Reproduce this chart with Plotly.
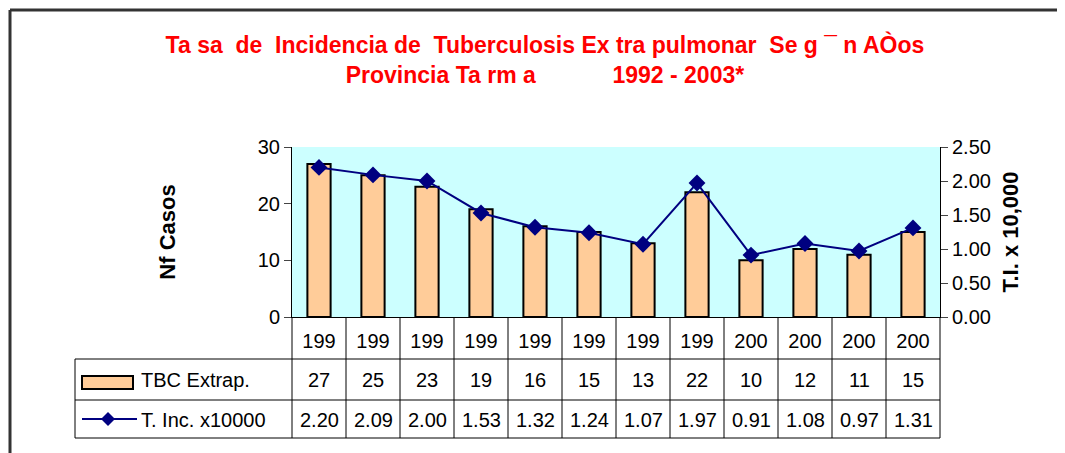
import plotly.graph_objects as go

# data
years = ["1992", "1993", "1994", "1995", "1996", "1997",
         "1998", "1999", "2000", "2001", "2002", "2003"]
year_labels = ["199", "199", "199", "199", "199", "199",
               "199", "199", "200", "200", "200", "200"]
casos = [27, 25, 23, 19, 16, 15, 13, 22, 10, 12, 11, 15]
tasa = [2.20, 2.09, 2.00, 1.53, 1.32, 1.24, 1.07, 1.97, 0.91, 1.08, 0.97, 1.31]

# page has an 8px body margin, so the figure is a bit smaller than the window
OFF = 8
W, H = 1065 - OFF, 453 - OFF
L, R, T, B = 292 - OFF, 125, 147 - OFF, 136
pw, ph = W - L - R, H - T - B


def px(x):  # page pixel x -> paper
    return (x - OFF - L) / pw


def py(y):  # page pixel y -> paper
    return (H - B - (y - OFF)) / ph


nb = "\u00a0"
title = ("Ta" + nb + "sa" + nb * 2 + "de" + nb * 2 + "Incidencia de" + nb * 2 + "Tuberculosis Ex" + nb + "tra pulmonar"
         + nb * 2 + "Se" + nb + "g" + nb + "¯" + nb + "n AÒos<br>Provincia Ta" + nb + "rm" + nb + "a"
         + nb * 12 + "1992 - 2003*")

fig = go.Figure()
fig.add_trace(go.Bar(x=years, y=casos, name="TBC Extrap.",
                     marker=dict(color="#FFCC99", line=dict(color="black", width=2)),
                     showlegend=False))
fig.add_trace(go.Scatter(x=years, y=tasa, name="T. Inc. x10000", yaxis="y2",
                         mode="lines+markers",
                         line=dict(color="#000080", width=2),
                         marker=dict(symbol="diamond", size=13, color="#000080"),
                         showlegend=False))

font = "Liberation Sans, Arial, sans-serif"
fs = 20
shapes = []
annotations = []

# outer frame (left and top edges only are visible)
shapes.append(dict(type="line", xref="paper", yref="paper", x0=px(10), x1=px(1080), y0=py(10), y1=py(10),
                   line=dict(color="#333333", width=3)))
shapes.append(dict(type="line", xref="paper", yref="paper", x0=px(10), x1=px(10), y0=py(10), y1=py(470),
                   line=dict(color="#333333", width=3)))

# data table grid
n = len(years)
for k in range(n + 1):
    shapes.append(dict(type="line", xref="paper", yref="paper", x0=k / n, x1=k / n, y0=py(317), y1=py(438),
                       line=dict(color="black", width=1)))
for yy in (359, 400, 438):
    shapes.append(dict(type="line", xref="paper", yref="paper", x0=px(75), x1=1, y0=py(yy), y1=py(yy),
                       line=dict(color="black", width=1)))
shapes.append(dict(type="line", xref="paper", yref="paper", x0=px(75), x1=px(75), y0=py(359), y1=py(438),
                   line=dict(color="black", width=1)))

# legend keys inside the table
shapes.append(dict(type="rect", xref="paper", yref="paper", x0=px(82), x1=px(133), y0=py(376), y1=py(389),
                   fillcolor="#FFCC99", line=dict(color="black", width=2)))
shapes.append(dict(type="line", xref="paper", yref="paper", x0=px(82), x1=px(137), y0=py(419), y1=py(419),
                   line=dict(color="#000080", width=2)))
shapes.append(dict(type="path", xref="paper", yref="paper",
                   path="M {} {} L {} {} L {} {} L {} {} Z".format(px(108), py(412), px(115), py(419),
                                                                px(108), py(426), px(101), py(419)),
                   fillcolor="#000080", line=dict(color="#000080", width=0)))
annotations.append(dict(text="TBC Extrap.", xref="paper", yref="paper", x=px(139), y=py(380),
                        xanchor="left", yanchor="middle", showarrow=False,
                        font=dict(family=font, size=fs, color="black")))
annotations.append(dict(text="T. Inc. x10000", xref="paper", yref="paper", x=px(139), y=py(420),
                        xanchor="left", yanchor="middle", showarrow=False,
                        font=dict(family=font, size=fs, color="black")))

# table values (category index positions on the x axis)
for i, (c, t) in enumerate(zip(casos, tasa)):
    annotations.append(dict(text=str(c), xref="x", yref="paper", x=i, y=py(380),
                            showarrow=False, yanchor="middle",
                            font=dict(family=font, size=fs, color="black")))
    annotations.append(dict(text="{:.2f}".format(t), xref="x", yref="paper", x=i, y=py(420),
                            showarrow=False, yanchor="middle",
                            font=dict(family=font, size=fs, color="black")))

fig.update_layout(
    width=W, height=H, autosize=False,
    margin=dict(l=L, r=R, t=T, b=B),
    paper_bgcolor="white", plot_bgcolor="#CCFFFF",
    bargap=0.57,
    title=dict(text=title, x=0.508, xanchor="center", y=0.898, yanchor="middle",
               font=dict(family="Liberation Sans Narrow, Arial Narrow, Liberation Sans, Arial", size=23,
                         color="#FF0000", weight="bold")),
    xaxis=dict(type="category", range=[-0.5, n - 0.5], tickvals=years, ticktext=year_labels, ticks="",
               showline=True, linecolor="black", linewidth=1, showgrid=False,
               tickfont=dict(family=font, size=fs, color="black"), ticklabelstandoff=6),
    yaxis=dict(range=[0, 30], tickvals=[0, 10, 20, 30], ticks="outside", ticklen=7,
               showline=True, linecolor="black", linewidth=1, showgrid=False, zeroline=False,
               tickfont=dict(family=font, size=fs, color="black"),
               title=dict(text="Nf Casos", standoff=76,
                          font=dict(family=font, size=22, color="black", weight="bold"))),
    yaxis2=dict(range=[0, 2.5], tickvals=[0, 0.5, 1, 1.5, 2, 2.5], tickformat=".2f",
                overlaying="y", side="right", ticks="outside", ticklen=7,
                showline=True, linecolor="black", linewidth=1, showgrid=False, zeroline=False,
                tickfont=dict(family=font, size=fs, color="black"),
                title=dict(text="T.I. x 10,000", standoff=12,
                           font=dict(family=font, size=22, color="black", weight="bold"))),
    shapes=shapes, annotations=annotations,
)

fig.write_html("out.html")
